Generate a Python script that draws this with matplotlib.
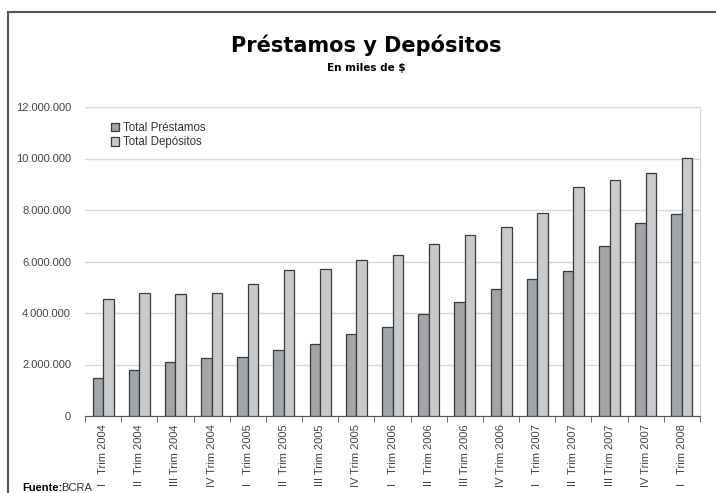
import matplotlib.pyplot as plt
import matplotlib.patches as mpatches
from matplotlib.ticker import FuncFormatter
import numpy as np

# Values (miles de $)
trimestres = ['I   Trim 2004', 'II  Trim 2004', 'III Trim 2004', 'IV Trim 2004',
              'I   Trim 2005', 'II  Trim 2005', 'III Trim 2005', 'IV Trim 2005',
              'I   Trim 2006', 'II  Trim 2006', 'III Trim 2006', 'IV Trim 2006',
              'I   Trim 2007', 'II  Trim 2007', 'III Trim 2007', 'IV Trim 2007',
              'I   Trim 2008']
prestamos = [1480000, 1790000, 2080000, 2260000, 2310000, 2560000, 2790000, 3180000,
             3450000, 3970000, 4440000, 4920000, 5320000, 5650000, 6610000, 7490000,
             7830000]
depositos = [4530000, 4770000, 4730000, 4780000, 5130000, 5660000, 5710000, 6040000,
             6260000, 6680000, 7040000, 7340000, 7900000, 8910000, 9180000, 9430000,
             10010000]

plt.rcParams['font.family'] = ['Liberation Sans', 'DejaVu Sans']

fig = plt.figure(figsize=(7.16, 4.93), dpi=100)
ax = fig.add_axes([85 / 716, 1 - 416 / 493, 615 / 716, 309 / 493])

x = np.arange(len(trimestres))
w = 0.29
ax.bar(x - w / 2, prestamos, w, color='#a2a5a8', edgecolor='#3a3a3a', linewidth=0.9,
       label='Total Préstamos', zorder=3)
ax.bar(x + w / 2, depositos, w, color='#c9cacc', edgecolor='#3a3a3a', linewidth=0.9,
       label='Total Depósitos', zorder=3)

ax.set_xlim(-0.5, len(trimestres) - 0.5)
ax.set_ylim(0, 12000000)
ax.set_yticks(np.arange(0, 12000001, 2000000))
ax.yaxis.set_major_formatter(FuncFormatter(lambda v, p: f'{int(v):,}'.replace(',', '.')))
ax.grid(axis='y', color='#d8d8d8', linewidth=1, zorder=0)
ax.tick_params(axis='y', length=0, labelsize=8, labelcolor='#444444', pad=10)

ax.set_xticks(x)
ax.set_xticklabels(trimestres, rotation=90, fontsize=8, color='#444444', va='top', ha='center')
ax.set_xticks(np.arange(-0.5, len(trimestres)), minor=True)
ax.tick_params(axis='x', which='major', length=0, pad=6)
ax.tick_params(axis='x', which='minor', length=4, color='#555555', direction='out')

for s in ['left', 'top']:
    ax.spines[s].set_visible(False)
ax.spines['bottom'].set_color('#555555')
ax.spines['right'].set_color('#d8d8d8')

ax.legend(loc='upper left', bbox_to_anchor=(0.025, 0.985), frameon=False,
          fontsize=8.3, handlelength=0.75, handleheight=0.75, handletextpad=0.3,
          labelspacing=0.2, labelcolor='#333333')

fig.text(366 / 716, 1 - 45 / 493, 'Préstamos y Depósitos', ha='center', va='center',
         fontsize=15, fontweight='heavy', family='DejaVu Sans')
fig.text(366 / 716, 1 - 68 / 493, 'En miles de $', ha='center', va='center',
         fontsize=7.5, fontweight='bold', family='DejaVu Sans')

fig.text(22 / 716, 1 - 488 / 493, 'Fuente:', fontsize=8, fontweight='bold', va='center')
fig.text(61 / 716, 1 - 488 / 493, 'BCRA', fontsize=8, va='center', color='#333333')

fig.patches.append(mpatches.Rectangle((8 / 716, -0.1), 1.1, 0.1 + 1 - 12 / 493,
                                      transform=fig.transFigure, fill=False,
                                      edgecolor='#555555', linewidth=1.5))

fig.savefig('out.png', dpi=100)
